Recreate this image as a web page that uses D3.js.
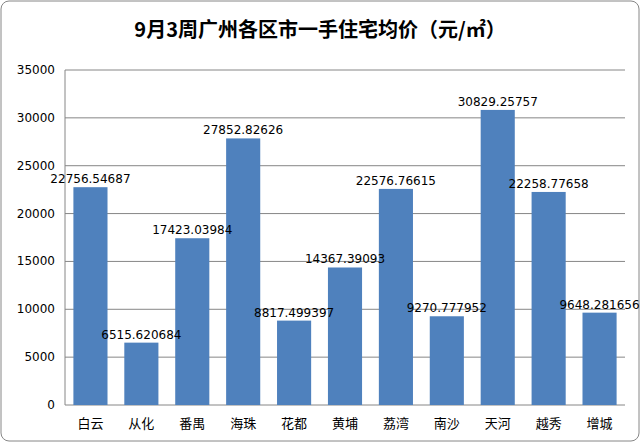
<!DOCTYPE html>
<html><head><meta charset="UTF-8">
<style>body{margin:0;background:#fff;font-family:"Noto Sans CJK SC","DejaVu Sans",sans-serif}</style>
</head><body>
<svg id="c" width="640" height="442"></svg>
<script src="https://d3js.org/d3.v7.min.js"></script>
<script>
const districts = ['白云','从化','番禺','海珠','花都','黄埔','荔湾','南沙','天河','越秀','增城'];
const prices = [22756.54687,6515.620684,17423.03984,27852.82626,8817.499397,14367.39093,22576.76615,9270.777952,30829.25757,22258.77658,9648.281656];
const labels = ['22756.54687','6515.620684','17423.03984','27852.82626','8817.499397','14367.39093','22576.76615','9270.777952','30829.25757','22258.77658','9648.281656'];
const yTicks = [0,5000,10000,15000,20000,25000,30000,35000];

const svg = d3.select('#c');
svg.append('rect').attr('x',1).attr('y',1).attr('width',638).attr('height',440).attr('rx',8)
  .attr('fill','#fff').attr('stroke','#868686');
svg.append('text').attr('x',320).attr('y',37).attr('text-anchor','middle')
  .attr('font-size',20).attr('font-weight','bold').text('9月3周广州各区市一手住宅均价（元/㎡）');

const x = d3.scaleBand().domain(districts).range([65,625]).paddingInner(0.33).paddingOuter(0.165);
const y = d3.scaleLinear().domain([0,35000]).range([405,70]);

svg.append('g').selectAll('line').data(yTicks).join('line')
  .attr('x1',65).attr('x2',625).attr('y1',d=>y(d)).attr('y2',d=>y(d)).attr('stroke','#868686');
svg.append('line').attr('x1',65).attr('x2',65).attr('y1',70).attr('y2',405).attr('stroke','#868686');

svg.append('g').selectAll('text').data(yTicks).join('text')
  .attr('x',55).attr('y',d=>y(d)+4).attr('text-anchor','end').attr('font-size',12)
  .attr('font-family','DejaVu Sans').text(d=>d);

svg.append('g').selectAll('rect').data(prices).join('rect')
  .attr('x',(d,i)=>x(districts[i])).attr('width',x.bandwidth())
  .attr('y',d=>y(d)).attr('height',d=>405-y(d)).attr('fill','#4F81BD');

svg.append('g').selectAll('text').data(prices).join('text')
  .attr('x',(d,i)=>x(districts[i])+x.bandwidth()/2).attr('y',d=>y(d)-4)
  .attr('text-anchor','middle').attr('font-size',12).attr('font-family','DejaVu Sans')
  .text((d,i)=>labels[i]);

svg.append('g').selectAll('text').data(districts).join('text')
  .attr('x',d=>x(d)+x.bandwidth()/2).attr('y',428).attr('text-anchor','middle')
  .attr('font-size',13).text(d=>d);
</script>
</body></html>
